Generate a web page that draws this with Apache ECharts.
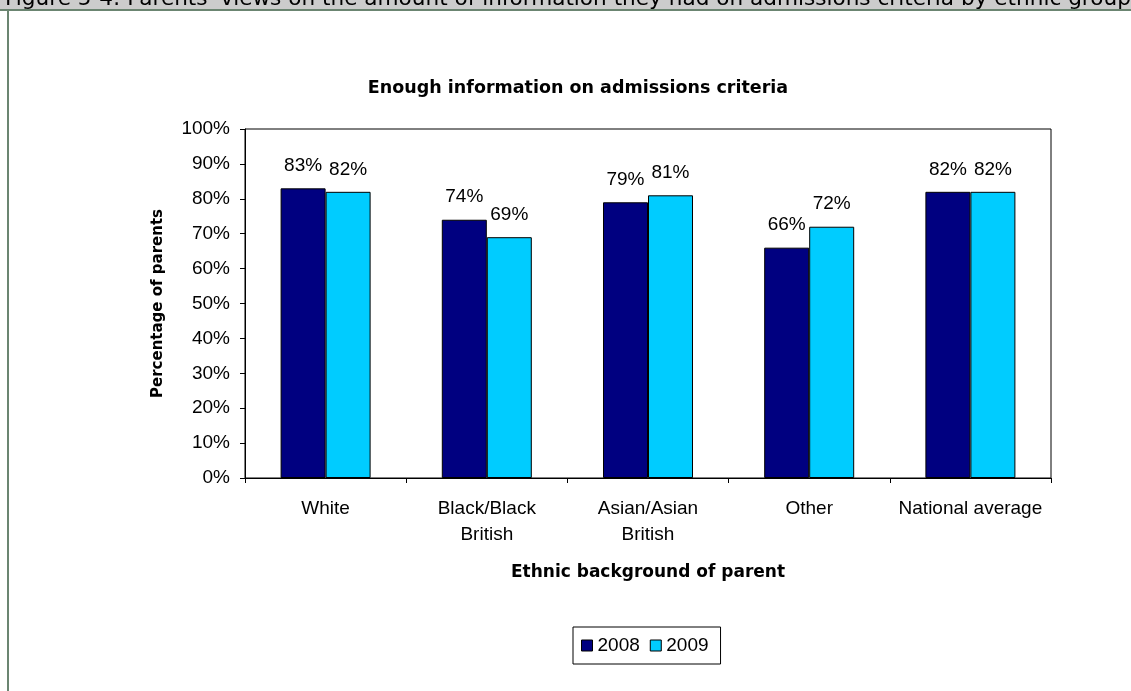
<!DOCTYPE html>
<html>
<head>
<meta charset="utf-8">
<script src="https://cdn.jsdelivr.net/npm/echarts@6/dist/echarts.min.js"></script>
<style>
  html, body { margin: 0; padding: 0; background: #fff; }
  #chart { width: 1131px; height: 691px; }
</style>
</head>
<body>
<div id="chart"></div>
<script>
// Parents' views on admissions information, by ethnic group
var categories = ['White', 'Black/Black\nBritish', 'Asian/Asian\nBritish', 'Other', 'National average'];
var seriesNames = ['2008', '2009'];
var values2008 = [83, 74, 79, 66, 82];
var values2009 = [82, 69, 81, 72, 82];
var yTicks = [0, 10, 20, 30, 40, 50, 60, 70, 80, 90, 100];

var figureCaption = "Figure 5-4: Parents' views on the amount of information they had on admissions criteria by ethnic group";
var chartTitle = 'Enough information on admissions criteria';
var xName = 'Ethnic background of parent';
var yName = 'Percentage of parents';

var FONT = '"Liberation Sans", Arial, sans-serif';
var BOLD_FONT = '"DejaVu Sans", "Liberation Sans", sans-serif';
var FRAME = '#6b8571';

var chart = echarts.init(document.getElementById('chart'), null, { renderer: 'canvas' });

function barSeries(name, data, color) {
  return {
    name: name,
    type: 'bar',
    data: data,
    barWidth: 45,
    barGap: '0%',
    itemStyle: { color: color, borderColor: '#000', borderWidth: 1 },
    label: {
      show: true,
      position: 'top',
      distance: 13,
      formatter: '{c}%',
      color: '#000',
      fontFamily: FONT,
      fontSize: 19
    }
  };
}

chart.setOption({
  animation: false,
  backgroundColor: '#fff',
  graphic: [
    { type: 'rect', shape: { x: 0, y: 0, width: 1131, height: 9 }, style: { fill: '#cccccc' }, z: 1 },
    { type: 'text', x: 5, y: 10, z: 2,
      style: { text: figureCaption, fill: '#000', font: '21.6px "DejaVu Sans", sans-serif',
               textAlign: 'left', textVerticalAlign: 'bottom' } },
    { type: 'rect', shape: { x: 0, y: 9, width: 1131, height: 682 }, style: { fill: '#fff' }, z: 2 },
    { type: 'rect', shape: { x: 0, y: 9, width: 1131, height: 2 }, style: { fill: FRAME }, z: 3 },
    { type: 'rect', shape: { x: 7, y: 9, width: 2, height: 682 }, style: { fill: FRAME }, z: 3 },
    { type: 'text', x: 578, y: 88, z: 3,
      style: { text: chartTitle, fill: '#000', font: 'bold 17.5px ' + BOLD_FONT,
               textAlign: 'center', textVerticalAlign: 'middle' } }
  ],
  grid: {
    left: 245, right: 80, top: 129, bottom: 213,
    show: true, borderColor: '#000', borderWidth: 1, backgroundColor: 'transparent', z: 5
  },
  legend: {
    data: seriesNames,
    left: 573, top: 627,
    orient: 'horizontal',
    itemWidth: 11, itemHeight: 11, itemGap: 10,
    padding: [9, 12, 9, 8],
    borderColor: '#000', borderWidth: 1,
    icon: 'rect',
    itemStyle: { borderColor: '#000', borderWidth: 1 },
    textStyle: { color: '#000', fontFamily: FONT, fontSize: 19 },
    z: 5
  },
  xAxis: {
    type: 'category',
    data: categories,
    name: xName,
    nameLocation: 'middle',
    nameGap: 86,
    nameTextStyle: { color: '#000', fontFamily: BOLD_FONT, fontWeight: 'bold', fontSize: 17 },
    axisLine: { lineStyle: { color: '#000', width: 1 } },
    axisTick: { show: true, inside: false, length: 5, alignWithLabel: false, lineStyle: { color: '#000' } },
    axisLabel: { color: '#000', fontFamily: FONT, fontSize: 19, margin: 18, lineHeight: 26, interval: 0 },
    splitLine: { show: false },
    z: 5
  },
  yAxis: {
    type: 'value',
    min: yTicks[0],
    max: yTicks[yTicks.length - 1],
    interval: yTicks[1] - yTicks[0],
    name: yName,
    nameLocation: 'middle',
    nameGap: 79,
    nameRotate: 90,
    nameTextStyle: { color: '#000', fontFamily: BOLD_FONT, fontWeight: 'bold', fontSize: 15 },
    axisLine: { show: true, lineStyle: { color: '#000', width: 1 } },
    axisTick: { show: true, inside: false, length: 5, lineStyle: { color: '#000' } },
    axisLabel: { color: '#000', fontFamily: FONT, fontSize: 19, margin: 15, formatter: '{value}%' },
    splitLine: { show: false },
    z: 5
  },
  series: [
    barSeries(seriesNames[0], values2008, '#000080'),
    barSeries(seriesNames[1], values2009, '#00ccff')
  ]
});
</script>
</body>
</html>
